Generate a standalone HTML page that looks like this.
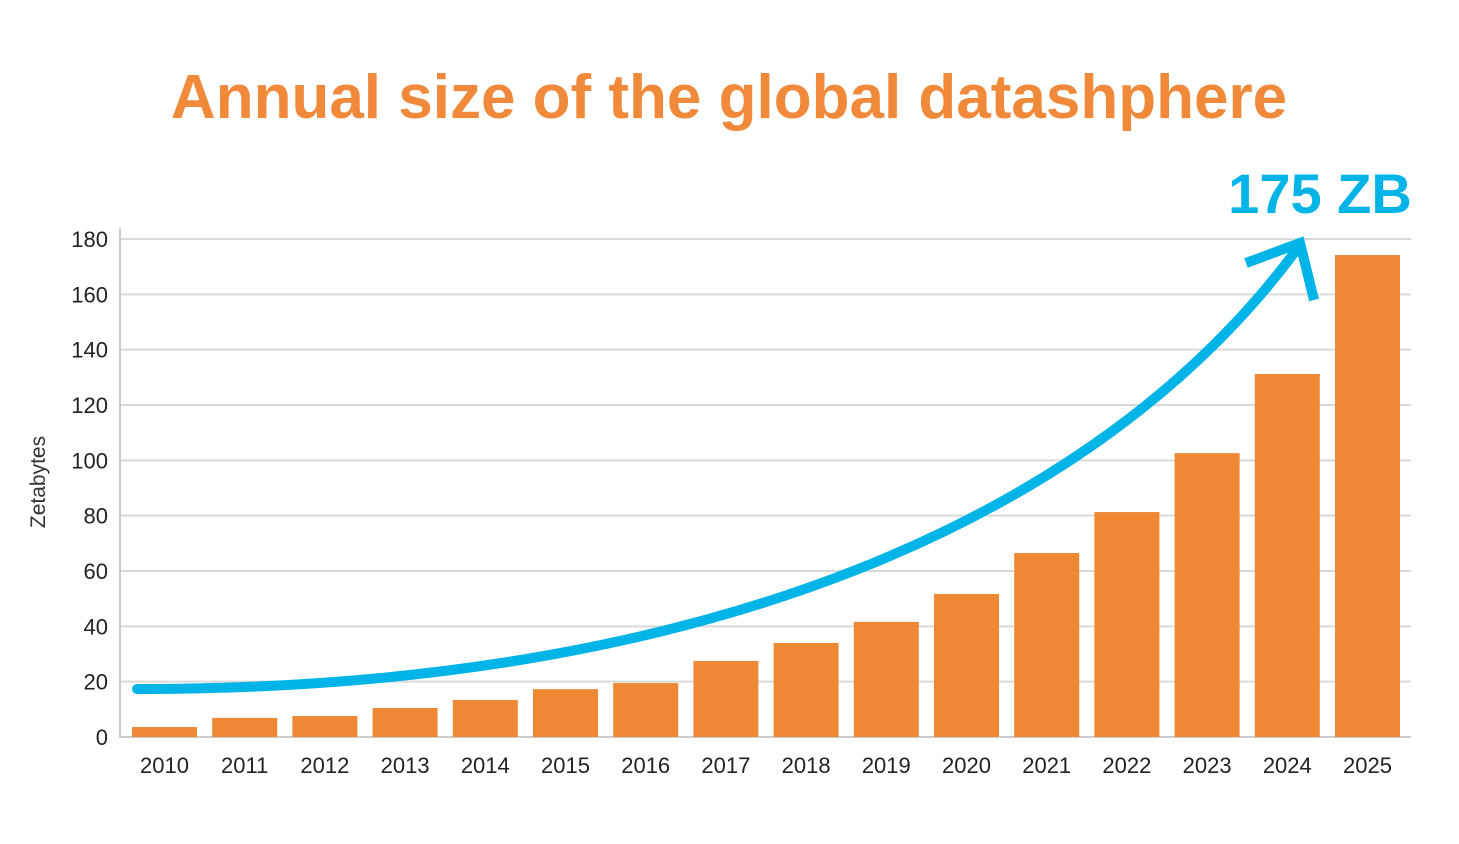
<!DOCTYPE html>
<html><head><meta charset="utf-8"><style>
body{margin:0;background:#fff;}
svg{display:block;font-family:"Liberation Sans",sans-serif;}
</style></head><body>
<svg id="chart" width="1459" height="844">
<text x="729" y="118" text-anchor="middle" font-size="62" font-weight="bold" fill="#f0893a">Annual size of the global datashphere</text>
<text x="1320" y="213" text-anchor="middle" font-size="56" font-weight="bold" fill="#00b4e8">175 ZB</text>
<text transform="translate(45,482) rotate(-90)" text-anchor="middle" font-size="21" fill="#333">Zetabytes</text>
<g id="grid"></g><g id="bars"></g><g id="xlabels"></g>
<line x1="120" y1="228" x2="120" y2="738" stroke="#ccc" stroke-width="2"/>
<path d="M137,689 C700,690 1100,520 1300,245" fill="none" stroke="#00b4e8" stroke-width="10" stroke-linecap="round"/>
<path d="M1246,263 L1300,243 L1314,300" fill="none" stroke="#00b4e8" stroke-width="10"/>
</svg>
<script>
const years=["2010","2011","2012","2013","2014","2015","2016","2017","2018","2019","2020","2021","2022","2023","2024","2025"];
const values=[3.6,6.9,7.6,10.5,13.4,17.3,19.5,27.5,34,41.6,51.7,66.5,81.3,102.6,131.2,174.2];
const yTicks=[0,20,40,60,80,100,120,140,160,180];
const NS="http://www.w3.org/2000/svg";
const y=v=>737-v*(737-239)/180;
const xc=i=>164.5+i*80.2;
const grid=document.getElementById('grid'),bars=document.getElementById('bars'),xl=document.getElementById('xlabels');
yTicks.forEach(t=>{
  const l=document.createElementNS(NS,'line');
  l.setAttribute('x1',120);l.setAttribute('x2',1411);l.setAttribute('y1',y(t));l.setAttribute('y2',y(t));
  l.setAttribute('stroke',t===0?'#ccc':'#d9d9d9');l.setAttribute('stroke-width',2);
  
  
  grid.appendChild(l);
  const tx=document.createElementNS(NS,'text');
  tx.setAttribute('x',108);tx.setAttribute('y',y(t)+8);tx.setAttribute('text-anchor','end');
  tx.setAttribute('font-size','22');tx.setAttribute('fill','#222');tx.textContent=t;
  
  
  grid.appendChild(tx);
});
values.forEach((v,i)=>{
  const r=document.createElementNS(NS,'rect');
  r.setAttribute('x',xc(i)-32.5);r.setAttribute('width',65);
  r.setAttribute('y',y(v));r.setAttribute('height',737-y(v));r.setAttribute('fill','#ef8834');
  
  
  bars.appendChild(r);
  const tx=document.createElementNS(NS,'text');
  tx.setAttribute('x',xc(i));tx.setAttribute('y',773);tx.setAttribute('text-anchor','middle');
  tx.setAttribute('font-size','22');tx.setAttribute('fill','#222');tx.textContent=years[i];
  
  
  xl.appendChild(tx);
});
</script>
</body></html>
